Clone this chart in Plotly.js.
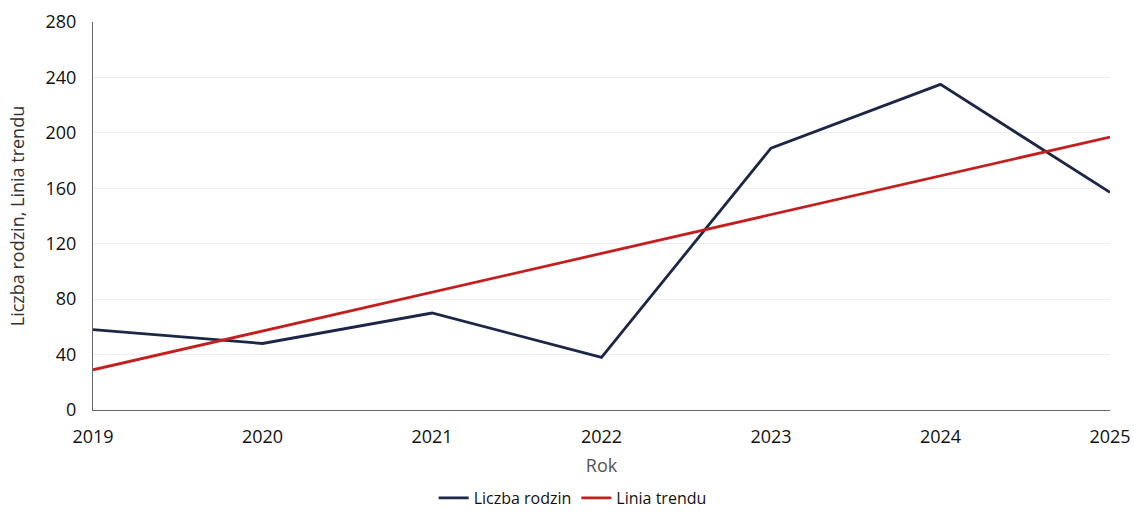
<!DOCTYPE html>
<html>
<head>
<meta charset="utf-8">
<script src="https://cdn.plot.ly/plotly-3.0.1.min.js"></script>
<style>html,body{margin:0;padding:0;background:#fff;}#chart{width:1134px;height:516px;}</style>
</head>
<body>
<div id="chart"></div>
<script>
const years = [2019, 2020, 2021, 2022, 2023, 2024, 2025];
const liczbaRodzin = [58, 48, 70, 38, 189, 235, 157];
const liniaTrendu = [29, 57, 85, 113, 141, 169, 197];
const yTicks = [0, 40, 80, 120, 160, 200, 240, 280];

const traces = [
  {x: years, y: liczbaRodzin, type: 'scatter', mode: 'lines', name: 'Liczba rodzin',
   line: {color: '#1c2745', width: 2.8}},
  {x: years, y: liniaTrendu, type: 'scatter', mode: 'lines', name: 'Linia trendu',
   line: {color: '#c41f1f', width: 2.8}}
];

const layout = {
  width: 1134, height: 516,
  margin: {l: 93, r: 24, t: 22, b: 106, autoexpand: false},
  paper_bgcolor: '#ffffff', plot_bgcolor: '#ffffff',
  font: {family: 'Open Sans, sans-serif', color: '#111'},
  showlegend: true,
  legend: {orientation: 'h', x: 0.505, xref: 'container', xanchor: 'center',
           y: 0.035, yref: 'container', yanchor: 'middle',
           font: {size: 16, color: '#111'}, itemwidth: 30, tracegroupgap: 0},
  xaxis: {
    range: [2019, 2025], tickvals: years, ticktext: years.map(String),
    showgrid: false, zeroline: false, showline: true, linecolor: '#666', linewidth: 1,
    ticks: '', tickfont: {size: 18, color: '#111'}, ticklabelstandoff: 10, automargin: false,
    title: {text: 'Rok', font: {size: 18, color: '#555'}, standoff: 12}
  },
  yaxis: {
    range: [0, 280], tickvals: yTicks, ticktext: yTicks.map(String),
    showgrid: true, gridcolor: '#eeeeee', gridwidth: 1, zeroline: false,
    showline: true, linecolor: '#666', linewidth: 1, automargin: false,
    ticks: '', tickfont: {size: 18, color: '#111'}, ticklabelstandoff: 12,
    title: {text: 'Liczba rodzin, Linia trendu', font: {size: 18, color: '#333'}, standoff: 16}
  }
};

Plotly.newPlot('chart', traces, layout, {displayModeBar: false, staticPlot: true});
</script>
</body>
</html>
